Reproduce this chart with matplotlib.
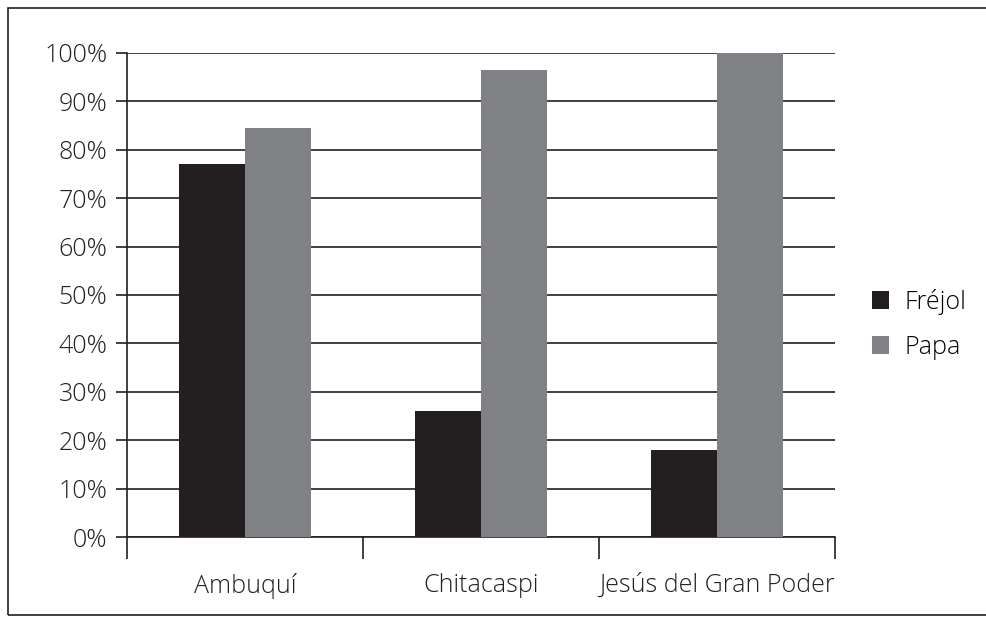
import matplotlib.pyplot as plt
import numpy as np
from matplotlib.patches import Rectangle

plt.rcParams["font.family"] = ["Open Sans", "DejaVu Sans"]
plt.rcParams["font.weight"] = "light"

categories = ["Ambuquí", "Chitacaspi", "Jesús del Gran Poder"]
frejol = [77, 26, 18]
papa = [84.5, 96.5, 100]
series_names = ["Fréjol", "Papa"]
colors = ["#231f20", "#808184"]

fig = plt.figure(figsize=(9.86, 6.23), dpi=100)
ax = fig.add_axes([0.1288, 0.138, 0.718, 0.777])

x = np.arange(len(categories))
w = 0.28
ax.bar(x - w / 2, frejol, w, color=colors[0], label=series_names[0], zorder=3)
ax.bar(x + w / 2, papa, w, color=colors[1], label=series_names[1], zorder=3)

ax.set_xlim(-0.5, len(categories) - 0.5)
ax.set_ylim(0, 100)
ax.set_yticks(np.arange(0, 101, 10))
ax.set_yticklabels([f"{v}%" for v in range(0, 101, 10)], fontsize=18, color="#231f20")
ax.yaxis.grid(True, color="#231f20", linewidth=1.2, zorder=1)
ax.set_axisbelow(True)

ax.set_xticks(x)
ax.set_xticklabels(categories, fontsize=18, color="#231f20")
ax.set_xticks(np.arange(-0.5, len(categories)), minor=True)
ax.tick_params(axis="x", which="major", length=0, pad=26)
ax.tick_params(axis="x", which="minor", length=16, width=1.2, color="#231f20")
ax.tick_params(axis="y", length=8, width=1.2, color="#231f20", pad=6)

for s in ["top", "right"]:
    ax.spines[s].set_visible(False)
for s in ["left", "bottom"]:
    ax.spines[s].set_color("#231f20")
    ax.spines[s].set_linewidth(1.2)

ax.legend(loc="center left", bbox_to_anchor=(1.02, 0.44), frameon=False,
          prop={"size": 18, "weight": "light"}, handlelength=0.7, handleheight=0.7,
          labelspacing=0.8, handletextpad=0.6)

fig.patches.append(Rectangle((8 / 986, 8 / 623), 1.1, 607 / 623, transform=fig.transFigure,
                             fill=False, edgecolor="#231f20", linewidth=1.2))

fig.savefig("out.png", dpi=100)
